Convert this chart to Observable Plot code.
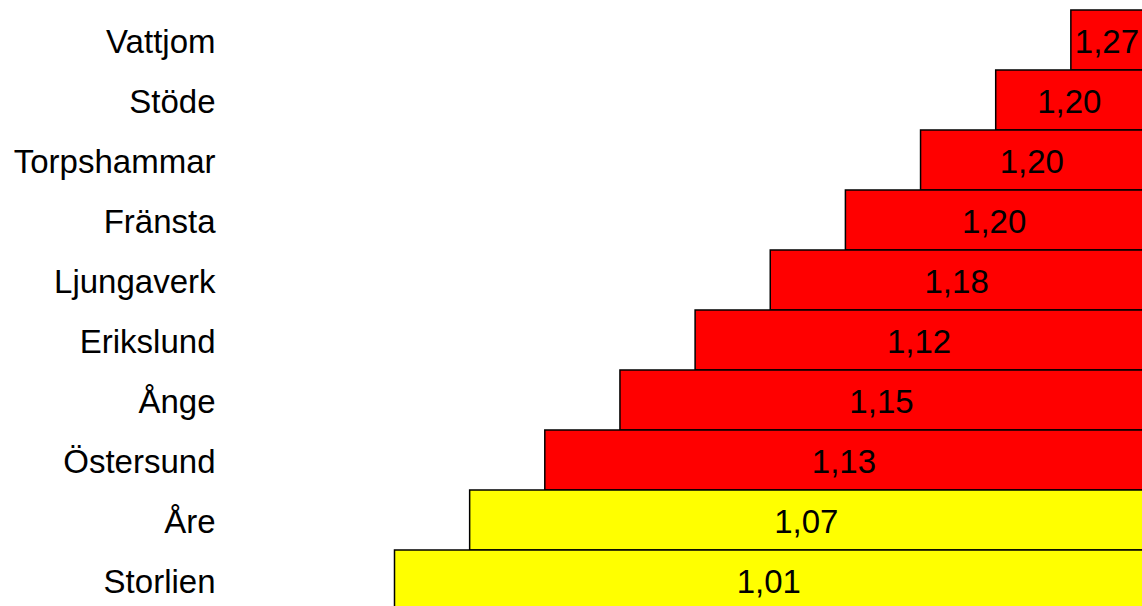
<!DOCTYPE html>
<html>
<head>
<meta charset="utf-8">
<script src="https://cdn.jsdelivr.net/npm/d3@7"></script>
<script src="https://cdn.jsdelivr.net/npm/@observablehq/plot@0.6"></script>
<style>
  html, body { margin: 0; padding: 0; background: #fff; overflow: hidden; }
  #chart { width: 1142px; height: 606px; overflow: hidden; }
</style>
</head>
<body>
<div id="chart"></div>
<script>
// Stations listed from top to bottom
const stations = ["Vattjom", "Stöde", "Torpshammar", "Fränsta", "Ljungaverk",
                  "Erikslund", "Ånge", "Östersund", "Åre", "Storlien"];
// Value shown in each bar
const values = [1.27, 1.20, 1.20, 1.20, 1.18, 1.12, 1.15, 1.13, 1.07, 1.01];
// Position of each stop along the line, counted from Storlien
const stopIndex = [9, 8, 7, 6, 5, 4, 3, 2, 1, 0];
// Every bar runs out to the end of the line
const lineEnd = 10;

const rows = stations.map((station, i) => ({
  station,
  value: values[i],
  start: stopIndex[i]
}));

const fmt = d3.formatLocale({decimal: ",", thousands: " ", grouping: [3], currency: ["", " kr"]}).format(".2f");

const chart = Plot.plot({
  width: 1142,
  height: 606,
  marginLeft: 218,
  style: {fontFamily: "Arial, 'Liberation Sans', sans-serif", background: "#fff", color: "#000"},
  x: {domain: [0, lineEnd], range: [394.5, 1146], axis: null},
  y: {domain: stations, range: [10, 610], padding: 0},
  color: {type: "threshold", domain: [1.10], range: ["#ffff00", "#ff0000"]},
  marks: [
    Plot.barX(rows, {
      x1: "start",
      x2: () => lineEnd,
      y: "station",
      fill: "value",
      stroke: "#000",
      strokeWidth: 1.5
    }),
    Plot.text(rows, {
      x: d => (d.start + lineEnd) / 2,
      y: "station",
      text: d => fmt(d.value),
      fontSize: 33,
      fill: "#000",
      dx: -2,
      dy: 2
    }),
    Plot.axisY({tickSize: 0, tickPadding: 3, fontSize: 33, label: null, dy: 2})
  ]
});

document.getElementById("chart").appendChild(chart);
</script>
</body>
</html>
